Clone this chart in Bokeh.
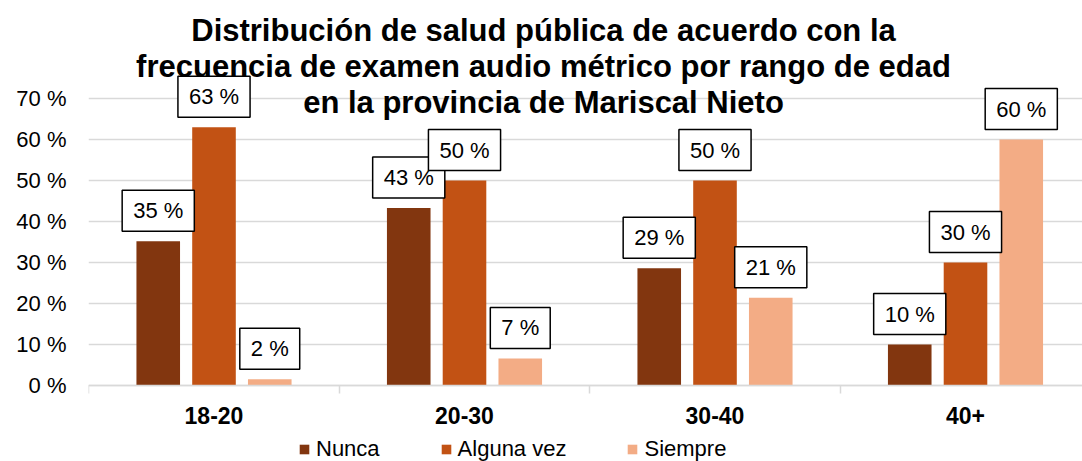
from bokeh.plotting import figure
from bokeh.models import Range1d, FixedTicker, Label
from bokeh.embed import file_html
from bokeh.resources import INLINE

# ---- data ----
categories = ["18-20", "20-30", "30-40", "40+"]
series_names = ["Nunca", "Alguna vez", "Siempre"]
nunca = [35.2, 43.3, 28.6, 10.0]
alguna_vez = [63.0, 50.0, 50.0, 30.0]
siempre = [1.5, 6.6, 21.4, 60.0]
y_ticks = [0, 10, 20, 30, 40, 50, 60, 70]
title_lines = [
    "Distribución de salud pública de acuerdo con la",
    "frecuencia de examen audio métrico por rango de edad",
    "en la provincia de Mariscal Nieto",
]

colors = ["#82360F", "#C25214", "#F3AC85"]
series = [nunca, alguna_vez, siempre]
offsets = [-0.2226, 0.0, 0.2226]
bar_w = 0.174
FONT = "Liberation Sans"

W, H = 1082, 461
LEFT = 88
zero_px = 385
px_per_unit_y = 4.1
y_end = zero_px / px_per_unit_y
y_start = -(H - zero_px) / px_per_unit_y
cat_px = 250.5
c0_px = 213.5
x_start = (LEFT - c0_px) / cat_px
x_end = (W - c0_px) / cat_px

p = figure(width=W, height=H,
           x_range=Range1d(x_start, x_end), y_range=Range1d(y_start, y_end),
           output_backend="svg", toolbar_location=None,
           min_border_left=LEFT, min_border_right=0, min_border_top=0, min_border_bottom=0)
p.outline_line_color = None
p.background_fill_color = "white"

xs_base = list(range(len(categories)))
for name, vals, col, off in zip(series_names, series, colors, offsets):
    xs = [x + off for x in xs_base]
    p.vbar(x=xs, top=vals, bottom=0, width=bar_w, fill_color=col, line_color=None,
           legend_label=name)
    for x, v in zip(xs, vals):
        p.add_layout(Label(x=x, y=v, text=f"{int(v + 0.5)} %", y_offset=10,
                           text_align="center", text_baseline="bottom",
                           text_font=FONT, text_font_size="22px", text_color="black",
                           padding=(11, 8),
                           border_line_color="black", border_line_width=1.5,
                           background_fill_color="white"))

# y axis
p.yaxis.ticker = FixedTicker(ticks=y_ticks)
p.yaxis.major_label_overrides = {t: f"{t} %" for t in y_ticks}
p.yaxis.axis_line_color = None
p.yaxis.major_tick_line_color = None
p.yaxis.minor_tick_line_color = None
p.yaxis.major_tick_out = 0
p.yaxis.major_label_standoff = 22
p.yaxis.major_label_text_font = FONT
p.yaxis.major_label_text_font_size = "22px"
p.yaxis.major_label_text_color = "black"

# x axis fixed at 0
p.xaxis.fixed_location = 0
p.xaxis.ticker = FixedTicker(ticks=xs_base, minor_ticks=[-0.5, 0.5, 1.5, 2.5])
p.xaxis.major_label_overrides = {i: c for i, c in enumerate(categories)}
p.xaxis.axis_line_color = "#d9d9d9"
p.xaxis.axis_line_width = 1.5
p.xaxis.major_tick_line_color = None
p.xaxis.major_tick_out = 0
p.xaxis.major_tick_in = 0
p.xaxis.minor_tick_line_color = "#d9d9d9"
p.xaxis.minor_tick_line_width = 1.5
p.xaxis.minor_tick_out = 8
p.xaxis.minor_tick_in = 0
p.xaxis.major_label_standoff = 13
p.xaxis.major_label_text_font = FONT
p.xaxis.major_label_text_font_size = "23px"
p.xaxis.major_label_text_font_style = "bold"
p.xaxis.major_label_text_color = "black"

p.xgrid.visible = False
p.ygrid.grid_line_color = "#d9d9d9"
p.ygrid.grid_line_width = 1.5

# title lines
title_x = (543 - c0_px) / cat_px
for line, base_px in zip(title_lines, [29.5, 65.5, 101.5]):
    p.add_layout(Label(x=title_x, y=(zero_px - base_px) / px_per_unit_y, text=line,
                       text_align="center", text_baseline="alphabetic",
                       text_font=FONT, text_font_size="31px", text_font_style="bold",
                       text_color="black"))

# legend
lg = p.legend[0]
lg.orientation = "horizontal"
lg.location = (210, -1)
lg.border_line_color = None
lg.background_fill_alpha = 0
lg.padding = 0
lg.margin = 0
lg.label_text_font = FONT
lg.label_text_font_size = "22px"
lg.label_text_color = "black"
lg.glyph_width = 12
lg.glyph_height = 12
lg.label_standoff = 6
lg.spacing = 60

open("out.html", "w").write(file_html(p, INLINE))
